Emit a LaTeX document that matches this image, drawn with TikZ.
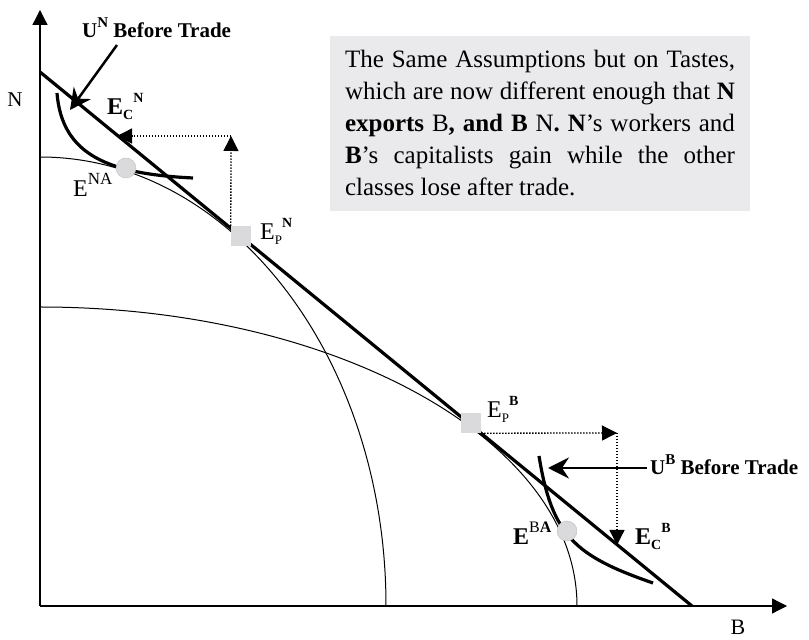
\documentclass[tikz,border=0pt]{standalone}
\usepackage{fontspec}
\setmainfont{Liberation Serif}
\usetikzlibrary{arrows.meta, positioning, calc}
\definecolor{notegray}{RGB}{234,234,236}
\definecolor{ptgray}{RGB}{218,218,220}
\newcommand{\supx}[2][14]{\raisebox{0.5em}{\fontsize{#1}{#1}\selectfont #2}}
\newcommand{\subx}[2][14]{\raisebox{-0.18em}{\fontsize{#1}{#1}\selectfont #2}}

\begin{document}
\begin{tikzpicture}[
  x=1pt, y=1pt,
  axis/.style   = {line width=1.3pt, -{Triangle[length=15pt, width=15pt]}},
  ppf/.style    = {line width=1pt},
  trade/.style  = {line width=3.2pt},
  icurve/.style = {line width=3.2pt},
  dotarr/.style = {dash pattern=on 1.3pt off 1.7pt, line width=1.3pt,
                   -{Triangle[length=15pt, width=15pt]}},
  arr/.style    = {line width=2.5pt, -{Stealth[length=21pt, width=21pt, inset=7pt]}},
  ptbox/.style  = {rectangle, fill=ptgray, minimum size=20pt, inner sep=0pt},
  ptdot/.style  = {circle, fill=ptgray, draw=black!25, minimum size=20pt, inner sep=0pt},
  lbl/.style    = {font=\fontsize{24}{28}\selectfont, inner sep=0pt, anchor=base west},
  tag/.style    = {font=\bfseries\fontsize{21}{24}\selectfont, inner sep=0pt, anchor=base west},
  note/.style   = {rectangle, fill=notegray, text width=390pt, align=justify,
                   inner xsep=15pt, minimum height=175pt,
                   font=\fontsize{25}{32}\selectfont},
]
\useasboundingbox (-40,-34) rectangle (769,606);

% ── Axes ──────────────────────────────────────────────────────────────────────
\coordinate (O) at (0,0);
\coordinate (ytip) at (0,596);
\coordinate (xtip) at (747,0);
\draw[axis] (O) -- (ytip);
\draw[axis] (O) -- (xtip);
\node[font=\fontsize{21}{24}\selectfont] (Nax) at (-25,506) {N};
\node[font=\fontsize{22}{24}\selectfont] (Bax) at (698,-21) {B};

% ── Production possibility frontiers ──────────────────────────────────────────
\draw[ppf] (0,449) arc[start angle=90, end angle=0, x radius=346, y radius=449];
\draw[ppf] (0,299) arc[start angle=90, end angle=0, x radius=537, y radius=299];

% ── Terms of trade line ───────────────────────────────────────────────────────
\coordinate (ttop) at (0,534);
\coordinate (tend) at (652,0);
\draw[trade] (ttop) -- (tend);

% ── Indifference curves before trade ──────────────────────────────────────────
\draw[icurve] (17,513) .. controls (22,450) and (70,432) .. (153,428);
\draw[icurve] (499,150) .. controls (512,70) and (535,50) .. (613,23);

% ── Equilibrium points ────────────────────────────────────────────────────────
\node[ptdot] (ENApt) at (86,438) {};
\node[ptdot] (EBApt) at (527,75) {};
\node[ptbox] (EPN) at (201,370) {};
\node[ptbox] (EPB) at (431,183) {};

% ── Dotted trade arrows ───────────────────────────────────────────────────────
\coordinate (cornerN) at (191,470);
\coordinate (tipN)    at (77,470);
\draw[dotarr] (EPN.north west) -- (cornerN);
\draw[dotarr] (cornerN) -- (tipN);

\coordinate (cornerB) at (577,173);
\coordinate (tipB)    at (577,61);
\draw[dotarr] (EPB.south east) -- (cornerB);
\draw[dotarr] (cornerB) -- (tipB);

% ── Labels ────────────────────────────────────────────────────────────────────
\node[lbl] (ECN)    at (67,491)  {\textbf{E}\subx{\textbf{C}}\supx{\textbf{N}}};
\node[lbl] (ENA)    at (33,409)  {E\supx[17]{NA}};
\node[lbl] (EPNlab) at (220,366) {E\subx[13]{P}\supx{\textbf{N}}};
\node[lbl] (EPBlab) at (447,188) {E\subx[13]{P}\supx{\textbf{B}}};
\node[lbl] (EBA)    at (473,61)  {\textbf{E}\supx[16]{B\textbf{A}}};
\node[lbl] (ECB)    at (595,61)  {\textbf{E}\subx{\textbf{C}}\supx{\textbf{B}}};

\node[tag] (UNlab) at (42,568)  {U\supx[15]{N} Before Trade};
\node[tag] (UBlab) at (610,131) {U\supx[15]{B} Before Trade};

\coordinate (tipUN) at (30,496);
\coordinate (tipUB) at (508,138);
\draw[arr] ([xshift=35pt, yshift=-7pt]UNlab.base west) -- (tipUN);
\draw[arr] ([xshift=-3pt, yshift=7pt]UBlab.base west) -- (tipUB);

% ── Note box ──────────────────────────────────────────────────────────────────
\node[note] (assume) at (500,482.5)
  {The Same Assumptions but on Tastes,\linebreak
   which are now different enough that \textbf{N}\linebreak
   \textbf{exports} B\textbf{, and B} N\textbf{. N}’s workers and\linebreak
   \textbf{B}’s capitalists gain while the other\linebreak
   classes lose after trade.};

\end{tikzpicture}
\end{document}
